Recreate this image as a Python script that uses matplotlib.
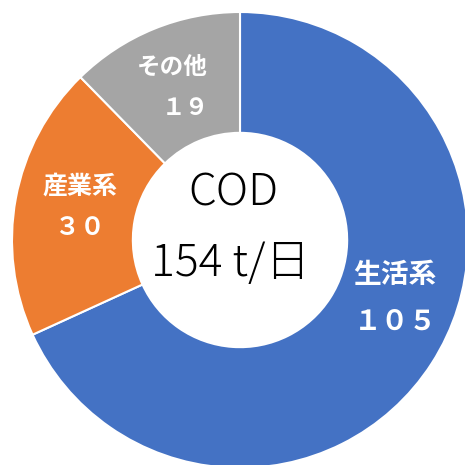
import matplotlib
matplotlib.use("Agg")
import matplotlib.pyplot as plt

categories = ["生活系", "産業系", "その他"]
values = [105, 30, 19]
value_labels = ["１０５", "３０", "１９"]
colors = ["#4472C4", "#ED7D31", "#A5A5A5"]
center_title = "COD"
center_total = "154 t/日"

plt.rcParams['font.family'] = ['Noto Sans CJK JP', 'DejaVu Sans']

fig = plt.figure(figsize=(4.65, 4.65), dpi=100)
ax = fig.add_axes([0, 0, 1, 1])
cx, cy, R = 240, 225, 228
wedges, _ = ax.pie(values, colors=colors, startangle=90, counterclock=False,
                   center=(cx, cy), radius=R,
                   wedgeprops=dict(width=R * 0.53, edgecolor="white", linewidth=1.5))
ax.set_xlim(0, 465)
ax.set_ylim(0, 465)
ax.set_aspect('equal')
ax.axis('off')

label_pos = [(395, 465 - 275, 395, 465 - 322, 20),
             (80, 465 - 187, 80, 465 - 228, 18),
             (172, 465 - 67, 185, 465 - 108, 17)]
for cat, vl, (x1, y1, x2, y2, fs) in zip(categories, value_labels, label_pos):
    ax.text(x1, y1, cat, color="white", fontsize=fs, fontweight="bold",
            ha="center", va="center")
    ax.text(x2, y2, vl, color="white", fontsize=fs, fontweight="bold",
            ha="center", va="center")

ax.text(233, 465 - 193, center_title, fontsize=32, ha="center", va="center",
        fontweight="light", color="black")
ax.text(230, 465 - 263, center_total, fontsize=32, ha="center", va="center",
        fontweight="light", color="black")

fig.savefig("out.png", dpi=100)
